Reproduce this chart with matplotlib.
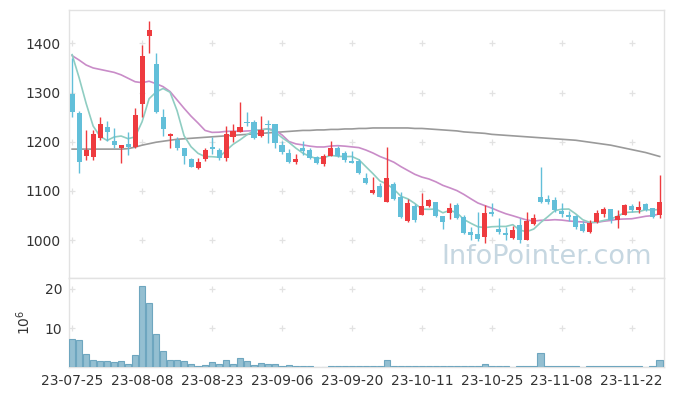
import matplotlib
matplotlib.use("Agg")
import matplotlib.pyplot as plt

# daily candles
opens = [1298, 1259, 1172, 1168, 1208, 1229, 1201, 1188, 1195, 1190,
         1276, 1415, 1359, 1250, 1212, 1203, 1187, 1164, 1146, 1164,
         1189, 1184, 1166, 1210, 1220, 1241, 1241, 1212, 1237, 1236,
         1193, 1178, 1158, 1187, 1183, 1168, 1155, 1172, 1187, 1178,
         1161, 1161, 1126, 1095, 1110, 1078, 1114, 1087, 1038, 1069,
         1052, 1069, 1077, 1049, 1056, 1071, 1048, 1017, 1012, 1007,
         1058, 1022, 1015, 1004, 1031, 1001, 1033, 1087, 1083, 1081,
         1060, 1051, 1049, 1033, 1017, 1036, 1053, 1063, 1041, 1052,
         1069, 1061, 1073, 1065, 1052]
highs = [1370, 1262, 1224, 1224, 1251, 1242, 1228, 1194, 1219, 1269,
         1397, 1445, 1381, 1267, 1217, 1210, 1188, 1166, 1166, 1187,
         1209, 1188, 1231, 1237, 1281, 1261, 1244, 1252, 1245, 1237,
         1202, 1186, 1176, 1202, 1187, 1171, 1176, 1202, 1191, 1182,
         1182, 1165, 1136, 1128, 1117, 1190, 1119, 1098, 1083, 1073,
         1095, 1083, 1078, 1050, 1075, 1075, 1051, 1027, 1058, 1071,
         1075, 1044, 1027, 1029, 1044, 1058, 1053, 1148, 1092, 1087,
         1076, 1060, 1051, 1038, 1040, 1061, 1068, 1064, 1061, 1073,
         1073, 1080, 1076, 1066, 1132]
lows = [1251, 1136, 1163, 1163, 1203, 1201, 1188, 1156, 1174, 1188,
        1251, 1381, 1258, 1212, 1187, 1183, 1155, 1148, 1144, 1161,
        1176, 1163, 1161, 1200, 1219, 1231, 1205, 1209, 1198, 1187,
        1175, 1156, 1155, 1173, 1164, 1155, 1151, 1171, 1169, 1158,
        1156, 1134, 1115, 1094, 1087, 1078, 1082, 1044, 1037, 1036,
        1051, 1068, 1047, 1022, 1043, 1043, 1012, 1000, 999, 995,
        1049, 1012, 1000, 1002, 995, 1000, 1031, 1075, 1073, 1058,
        1048, 1038, 1022, 1017, 1015, 1034, 1046, 1034, 1025, 1051,
        1058, 1056, 1060, 1045, 1044]
closes = [1261, 1158, 1183, 1216, 1236, 1220, 1193, 1193, 1189, 1254,
          1374, 1427, 1261, 1225, 1216, 1187, 1172, 1149, 1158, 1183,
          1186, 1166, 1216, 1222, 1229, 1238, 1207, 1224, 1233, 1198,
          1180, 1158, 1165, 1182, 1166, 1156, 1170, 1188, 1172, 1163,
          1157, 1137, 1117, 1102, 1088, 1126, 1084, 1046, 1075, 1041,
          1069, 1082, 1049, 1037, 1065, 1045, 1014, 1010, 1002, 1056,
          1054, 1017, 1010, 1020, 1000, 1039, 1044, 1077, 1078, 1062,
          1053, 1046, 1027, 1019, 1035, 1056, 1063, 1041, 1049, 1071,
          1061, 1067, 1061, 1046, 1077]
# volume in millions
volume = [7.3, 7.0, 3.4, 1.7, 1.5, 1.5, 1.2, 1.5, 0.9, 3.2,
          20.8, 16.3, 8.4, 4.0, 1.9, 1.7, 1.5, 0.9, 0.35, 0.6,
          1.2, 0.9, 1.9, 0.9, 2.4, 1.5, 0.6, 1.1, 0.9, 0.9,
          0.4, 0.6, 0.2, 0.35, 0.35, 0.15, 0.15, 0.35, 0.2, 0.4,
          0.2, 0.4, 0.2, 0.2, 0.2, 1.7, 0.4, 0.4, 0.2, 0.4,
          0.2, 0.2, 0.4, 0.2, 0.2, 0.2, 0.4, 0.4, 0.2, 0.7,
          0.2, 0.2, 0.2, 0.05, 0.2, 0.2, 0.2, 3.7, 0.4, 0.4,
          0.2, 0.2, 0.2, 0.05, 0.2, 0.2, 0.2, 0.2, 0.2, 0.2,
          0.2, 0.2, 0.05, 0.2, 1.7]

# moving averages
ma5 = [1377, 1330, 1278, 1232, 1210.8, 1202.6, 1209.6, 1211.6, 1206.2, 1209.8,
       1240.6, 1287.4, 1301, 1308.2, 1300.6, 1263.2, 1212.2, 1189.8, 1176.4, 1169.8,
       1169.6, 1168.4, 1181.8, 1194.6, 1203.8, 1214.2, 1222.4, 1224, 1226.2, 1220,
       1208.4, 1198.6, 1186.8, 1176.6, 1170.2, 1165.4, 1167.8, 1172.4, 1170.4, 1169.8,
       1170, 1163.4, 1149.2, 1135.2, 1120.2, 1114, 1103.4, 1089.2, 1083.8, 1074.4,
       1063, 1062.6, 1063.2, 1055.6, 1060.4, 1055.6, 1042, 1034.2, 1027.2, 1025.4,
       1027.2, 1027.8, 1027.8, 1031.4, 1020.2, 1017.2, 1022.6, 1036, 1047.6, 1060,
       1062.8, 1063.2, 1053.2, 1041.4, 1036, 1036.6, 1040, 1042.8, 1048.8, 1056,
       1057, 1057.8, 1061.8, 1061.2, 1062.4]
ma20 = [1375, 1366, 1356, 1350, 1347, 1344, 1341, 1336, 1329, 1322,
        1320, 1323, 1318, 1312, 1302, 1285, 1268, 1252, 1238, 1223,
        1219, 1219.4, 1221, 1221.4, 1221, 1221.9, 1222.6, 1224.2, 1226.4, 1223.6,
        1213.9, 1200.4, 1195.6, 1193.5, 1191, 1189.4, 1189.3, 1191.3, 1192, 1191,
        1189.5, 1188, 1183.1, 1177.1, 1170, 1164.5, 1158.3, 1149.4, 1141.5, 1133.7,
        1128.1, 1124.3, 1118.5, 1111.3, 1106.2, 1100.7, 1092.9, 1084, 1075.5, 1070.1,
        1065, 1059, 1053.6, 1049.5, 1045.1, 1040.8, 1038.8, 1040.3, 1040.5, 1041.5,
        1040.7, 1038.9, 1037.8, 1036.9, 1035.4, 1036, 1038.4, 1040, 1042.3, 1043,
        1043.4, 1045.9, 1048.5, 1049.8, 1053.6]
ma_long = [1185, 1185, 1185, 1185, 1185, 1185, 1185, 1185, 1186, 1189,
           1193, 1196, 1199, 1201, 1203, 1205, 1206, 1207, 1208, 1209,
           1210, 1211, 1212, 1213, 1214, 1215, 1216, 1217, 1218, 1219,
           1220, 1221, 1222, 1223, 1223, 1224, 1224, 1225, 1225, 1226,
           1226, 1227, 1227, 1228, 1228, 1228, 1228, 1228, 1228, 1227,
           1227, 1226, 1225, 1224, 1223, 1222, 1220, 1219, 1218, 1217,
           1215, 1214, 1213, 1212, 1211, 1210, 1209, 1208, 1207, 1206,
           1205, 1204, 1203, 1201, 1199, 1197, 1195, 1193, 1190, 1187,
           1184, 1181, 1178, 1174, 1170]

tick_labels = ['23-07-25', '23-08-08', '23-08-23', '23-09-06', '23-09-20',
               '23-10-11', '23-10-25', '23-11-08', '23-11-22']
price_ticks = [1000, 1100, 1200, 1300, 1400]
vol_ticks = [10, 20]

up_col = '#ee3b3f'
down_col = '#62bfd9'
grid_col = '#e2e2e2'
txt_col = '#333333'

n = len(closes)
xs = list(range(n))
xt = list(range(0, n, 10))[:len(tick_labels)]

fig = plt.figure(figsize=(6.73, 3.96), dpi=100)
ax = fig.add_axes([0.1025, 0.298, 0.884, 0.677])
axv = fig.add_axes([0.1025, 0.073, 0.884, 0.225], sharex=ax)

# moving average lines under the candles
ax.plot(xs, ma_long, color='#9a9a9a', lw=1.2, zorder=2)
ax.plot(xs, ma20, color='#c98cc8', lw=1.2, zorder=2)
ax.plot(xs, ma5, color='#8fcdc2', lw=1.2, zorder=2)

for i in xs:
    o, h, l, c = opens[i], highs[i], lows[i], closes[i]
    col = up_col if c >= o else down_col
    ax.vlines(i, l, h, color=col, lw=1, zorder=3)
    body = max(abs(c - o), 2)
    ax.bar(i, body, bottom=min(o, c), width=0.72, color=col, zorder=4)

axv.bar(xs, volume, width=0.95, color='#94bfd1', edgecolor='#6ea6bf',
        lw=0.8, zorder=3)

# little '+' marks at grid crossings
for a, yt in ((ax, price_ticks), (axv, vol_ticks)):
    for x in xt:
        for y in yt:
            a.plot(x, y, '+', color=grid_col, ms=5, mew=0.9, zorder=1)

ax.text(0.803, 0.078, 'InfoPointer.com', transform=ax.transAxes,
        fontsize=19.5, color='#c6d7e1', ha='center', va='center', zorder=5)

ax.set_xlim(-0.45, 84.6)
ax.set_ylim(923, 1468)
axv.set_ylim(0, 22.8)

ax.set_yticks(price_ticks)
axv.set_yticks(vol_ticks)
axv.set_xticks(xt)
axv.set_xticklabels(tick_labels)
ax.tick_params(axis='x', labelbottom=False, length=0)
ax.tick_params(axis='y', length=0, pad=6, labelsize=10, labelcolor=txt_col)
axv.tick_params(length=0, pad=5, labelsize=10, labelcolor=txt_col)
axv.set_ylabel(r'$10^6$', fontsize=10, color=txt_col, labelpad=8)

for a in (ax, axv):
    for s in a.spines.values():
        s.set_color(grid_col)
        s.set_linewidth(1)

fig.savefig('out.png', dpi=100)
